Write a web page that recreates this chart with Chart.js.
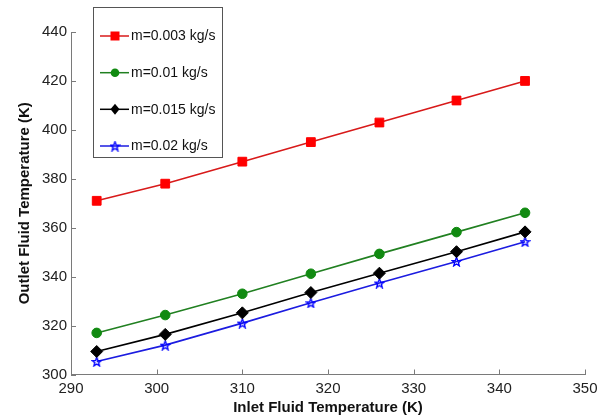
<!DOCTYPE html>
<html lang="en">
<head>
<meta charset="UTF-8">
<title>Outlet vs Inlet Fluid Temperature</title>
<script src="https://cdn.jsdelivr.net/npm/chart.js"></script>
<style>
  html, body { margin: 0; padding: 0; background: #fff; }
</style>
</head>
<body>
<canvas id="tempChart" width="613" height="420"></canvas>
<script>
// inlet temperature (K) and outlet temperature (K) for each mass flow rate
const inletTemp = [293, 301, 310, 318, 326, 335, 343];
const seriesLabels = ['m=0.003 kg/s', 'm=0.01 kg/s', 'm=0.015 kg/s', 'm=0.02 kg/s'];
const outletM003 = [371, 378, 387, 395, 403, 412, 420];
const outletM010 = [317, 324.3, 333, 341.2, 349.3, 358.2, 366.1];
const outletM015 = [309.4, 316.4, 325.2, 333.5, 341.4, 350.2, 358.3];
const outletM020 = [305.3, 312, 321, 329.3, 337.4, 346.2, 354.3];
const xTicks = [290, 300, 310, 320, 330, 340, 350];
const yTicks = [300, 320, 340, 360, 380, 400, 420, 440];

// five point star marker (pentagram), drawn once into a small canvas
function makeStar(size, color) {
    const c = document.createElement('canvas');
    c.width = c.height = size;
    const g = c.getContext('2d');
    const cx = size / 2, cy = size / 2 + 0.5;
    const R = size / 2 - 0.8, r = R * 0.42;
    g.beginPath();
    for (let i = 0; i < 10; i++) {
        const a = -Math.PI / 2 + i * Math.PI / 5;
        const rad = i % 2 ? r : R;
        g.lineTo(cx + rad * Math.cos(a), cy + rad * Math.sin(a));
    }
    g.closePath();
    g.strokeStyle = color;
    g.lineWidth = 1.4;
    g.stroke();
    return c;
}
const blueStar = makeStar(11, '#0000ff');

function toPoints(arr) {
    return inletTemp.map((x, i) => ({ x: x, y: arr[i] }));
}

const series = [
    { data: outletM003, line: '#d81a1a', fill: '#ff0000', style: 'rect', radius: 6.2 },
    { data: outletM010, line: '#218021', fill: '#118a11', style: 'circle', radius: 4.8 },
    { data: outletM015, line: '#000000', fill: '#000000', style: 'rectRot', radius: 6 },
    { data: outletM020, line: '#1c1ce0', fill: '#0000ff', style: blueStar, radius: 5 }
];

// ticks drawn inward from the axis lines
const innerTicks = {
    id: 'innerTicks',
    beforeDatasetsDraw(chart) {
        const { ctx, chartArea, scales } = chart;
        ctx.save();
        ctx.strokeStyle = '#7a7a7a';
        ctx.lineWidth = 1;
        ctx.beginPath();
        xTicks.forEach(v => {
            const px = Math.round(scales.x.getPixelForValue(v)) + 0.5;
            ctx.moveTo(px, chartArea.bottom);
            ctx.lineTo(px, chartArea.bottom - 5);
        });
        yTicks.forEach(v => {
            const py = Math.round(scales.y.getPixelForValue(v)) + 0.5;
            ctx.moveTo(chartArea.left, py);
            ctx.lineTo(chartArea.left + 5, py);
        });
        ctx.stroke();
        ctx.restore();
    }
};

// boxed legend in the upper left corner
const boxLegend = {
    id: 'boxLegend',
    afterDraw(chart) {
        const ctx = chart.ctx;
        const bx = 93.5, by = 7.5, bw = 129, bh = 150;
        ctx.save();
        ctx.fillStyle = '#ffffff';
        ctx.fillRect(bx, by, bw, bh);
        ctx.strokeStyle = '#555555';
        ctx.lineWidth = 1;
        ctx.strokeRect(bx, by, bw, bh);

        const rowY = [36, 72.7, 109.3, 146];
        ctx.font = '14px Arial, "Liberation Sans", sans-serif';
        ctx.textBaseline = 'middle';
        series.forEach((s, i) => {
            const y = rowY[i];
            ctx.strokeStyle = s.line;
            ctx.lineWidth = 1.5;
            ctx.beginPath();
            ctx.moveTo(100, y);
            ctx.lineTo(129, y);
            ctx.stroke();
            ctx.fillStyle = s.fill;
            ctx.beginPath();
            if (s.style === 'rect') {
                ctx.rect(110.5, y - 4.5, 9, 9);
                ctx.fill();
            } else if (s.style === 'circle') {
                ctx.arc(115, y, 4.3, 0, Math.PI * 2);
                ctx.fill();
            } else if (s.style === 'rectRot') {
                ctx.moveTo(115, y - 5.5);
                ctx.lineTo(119.5, y);
                ctx.lineTo(115, y + 5.5);
                ctx.lineTo(110.5, y);
                ctx.closePath();
                ctx.fill();
            } else {
                ctx.drawImage(s.style, 115 - 5.5, y - 5.5);
            }
            ctx.fillStyle = '#111111';
            ctx.fillText(seriesLabels[i], 131, y + 0.5);
        });
        ctx.restore();
    }
};

const tickFont = { family: 'Arial, "Liberation Sans", sans-serif', size: 15 };
const titleFont = { family: 'Arial, "Liberation Sans", sans-serif', size: 15, weight: 'bold' };

new Chart(document.getElementById('tempChart'), {
    type: 'line',
    data: {
        datasets: series.map((s, i) => ({
            label: seriesLabels[i],
            data: toPoints(s.data),
            borderColor: s.line,
            borderWidth: 1.6,
            backgroundColor: s.fill,
            pointStyle: s.style,
            pointRadius: s.radius,
            pointBorderColor: s.fill,
            pointBackgroundColor: s.fill,
            pointBorderWidth: 1,
            tension: 0,
            fill: false
        }))
    },
    options: {
        responsive: false,
        animation: false,
        layout: { padding: { left: 0, right: 28, top: 32, bottom: 0 } },
        plugins: {
            legend: { display: false },
            tooltip: { enabled: false }
        },
        scales: {
            x: {
                type: 'linear',
                min: 290,
                max: 350,
                afterBuildTicks: scale => { scale.ticks = xTicks.map(v => ({ value: v })); },
                afterFit: scale => { scale.height = 45.5; },
                grid: { display: true, drawOnChartArea: false, drawTicks: false },
                border: { display: true, color: '#7a7a7a', width: 1 },
                ticks: { font: tickFont, color: '#222222', padding: 5, maxRotation: 0 },
                title: {
                    display: true,
                    text: 'Inlet Fluid Temperature (K)',
                    font: titleFont,
                    color: '#111111',
                    padding: { top: 0, bottom: 3 }
                }
            },
            y: {
                min: 300,
                max: 440,
                afterBuildTicks: scale => { scale.ticks = yTicks.map(v => ({ value: v })); },
                afterFit: scale => { scale.width = 71; },
                grid: { display: true, drawOnChartArea: false, drawTicks: false },
                border: { display: true, color: '#7a7a7a', width: 1 },
                ticks: { font: tickFont, color: '#222222', padding: 4 },
                title: {
                    display: true,
                    text: 'Outlet Fluid Temperature (K)',
                    font: titleFont,
                    color: '#111111',
                    padding: { top: 16, bottom: 0 }
                }
            }
        }
    },
    plugins: [innerTicks, boxLegend]
});
</script>
</body>
</html>
